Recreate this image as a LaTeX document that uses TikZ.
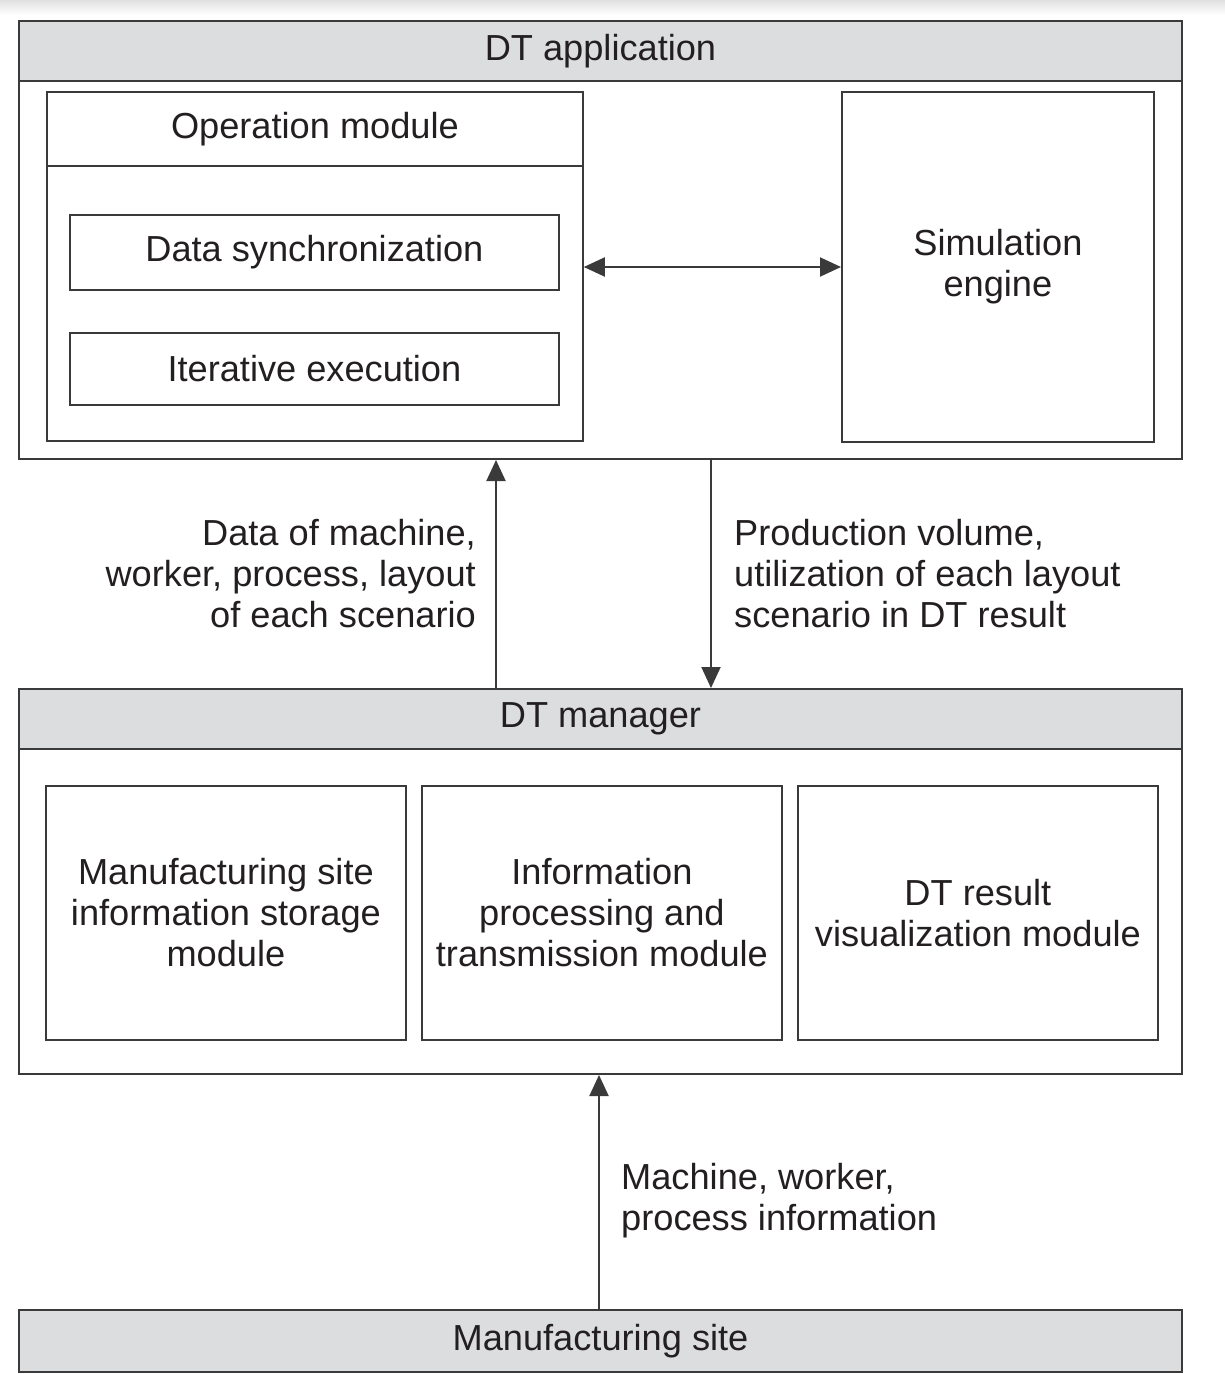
\documentclass[tikz,border=0pt]{standalone}
\usepackage{fontspec}
\setmainfont{Liberation Sans}
\usetikzlibrary{arrows.meta}
\definecolor{linegray}{HTML}{3A3A3A}
\definecolor{barfill}{HTML}{DCDDDF}
\definecolor{inkcol}{HTML}{231F20}
\begin{document}
\begin{tikzpicture}[x=1pt,y=-1pt,
  every node/.style={text=inkcol, font=\fontsize{36.2}{41}\selectfont, inner sep=0pt},
  frame/.style={draw=linegray, line width=2pt, anchor=north west},
  bar/.style={frame, fill=barfill},
  box/.style={draw=linegray, line width=1.8pt, anchor=north west, align=center},
  label/.style={align=left},
  arr/.style={draw=linegray, line width=2pt, -{Triangle[length=21pt,width=19pt]}},
  dblarr/.style={draw=linegray, line width=2pt, {Triangle[length=21pt,width=19pt]}-{Triangle[length=21pt,width=19pt]}}]
% page extent and faint top edge
\useasboundingbox (0,0) rectangle (1225,1374);
\fill[white] (0,0) rectangle (1225,1374);
\shade[top color=black!12, bottom color=white] (0,0) rectangle (1225,15);

% DT application layer
\node[frame, minimum width=1163pt, minimum height=438pt] (dtapp) at (18,20) {};
\node[bar, minimum width=1163pt, minimum height=60pt] (dtapphead) at (18,20) {};
\node at (dtapphead.center) {DT application};

\node[box, minimum width=536pt, minimum height=349pt] (opmod) at (46,91) {};
\node[box, minimum width=536pt, minimum height=74pt] (opmodhead) at (46,91) {Operation module};
\node[box, minimum width=489pt, minimum height=75pt] (sync) at (69,214) {Data synchronization};
\node[box, minimum width=489pt, minimum height=72pt] (iter) at (69,332) {Iterative execution};

\node[box, minimum width=312pt, minimum height=350pt] (sim) at (841,91) {Simulation\\engine};

\coordinate (linky) at (0,267);
\draw[dblarr] (opmod.east |- linky) -- (sim.west |- linky);

% DT manager layer
\node[frame, minimum width=1163pt, minimum height=385pt] (mgr) at (18,688) {};
\node[bar, minimum width=1163pt, minimum height=60pt] (mgrhead) at (18,688) {};
\node at (mgrhead.center) {DT manager};

\node[box, minimum width=360pt, minimum height=254pt] (storage) at (45,785)
  {Manufacturing site\\information storage\\module};
\node[box, minimum width=360pt, minimum height=254pt] (proc) at (421,785)
  {Information\\processing and\\transmission module};
\node[box, minimum width=360pt, minimum height=254pt] (vis) at (797,785)
  {DT result\\visualization module};

% Manufacturing site layer
\node[bar, minimum width=1163pt, minimum height=62pt] (site) at (18,1309) {};
\node at (site.center) {Manufacturing site};

% data flows between layers
\coordinate (upx) at (496,0);
\coordinate (downx) at (711,0);
\coordinate (sitex) at (599,0);
\draw[arr] (mgrhead.north -| upx) -- (dtapp.south -| upx);
\draw[arr] (dtapp.south -| downx) -- (mgrhead.north -| downx);
\draw[arr] (site.north -| sitex) -- (mgr.south -| sitex);

\node[align=right, anchor=east] (uplabel) at (476,574)
  {Data of machine,\\worker, process, layout\\of each scenario};
\node[label, anchor=west] (downlabel) at (734,574)
  {Production volume,\\utilization of each layout\\scenario in DT result};
\node[label, anchor=west] (sitelabel) at (621,1201)
  {Machine, worker,\\process information};
\end{tikzpicture}
\end{document}
